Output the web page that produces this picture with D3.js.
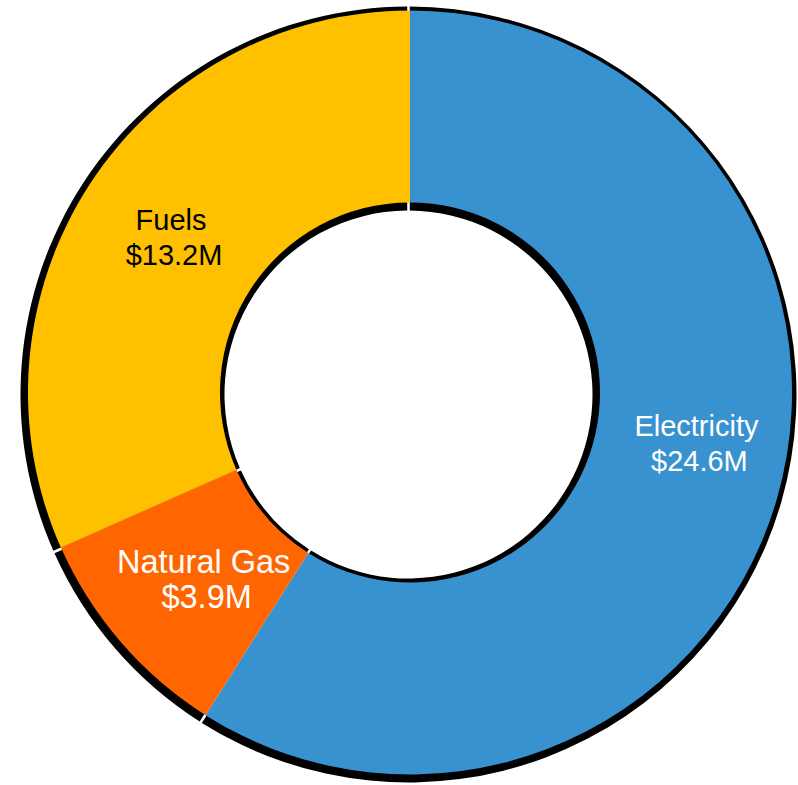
<!DOCTYPE html>
<html>
<head>
<meta charset="utf-8">
<script src="https://cdn.jsdelivr.net/npm/d3@7"></script>
<style>
    body { margin: 0; background: #fff; }
    svg { display: block; }
    text { font-family: "Liberation Sans", Arial, sans-serif; }
</style>
</head>
<body>
<svg id="donut"></svg>
<script>
"use strict";

// Data
const categories = ["Electricity", "Natural Gas", "Fuels"];
const amounts = [24.6, 3.9, 13.2];
const valueLabels = ["$24.6M", "$3.9M", "$13.2M"];

// Look
const colors = ["#3892cf", "#ff6600", "#ffc000"];
const labelColors = ["#ffffff", "#ffffff", "#000000"];
const labelSizes = [29, 32.5, 29];
const labelTurn = [-6, -1.5, 0];   // degrees, small nudges of label placement
const labelRadius = [291, 279, 285];

// Dimensions
const width = 798;
const height = 785;
const cx = 410;
const cy = 392.5;
const outerR = 382;
const innerR = 190;

const svg = d3.select("#donut")
    .attr("width", width)
    .attr("height", height);

const slices = d3.pie()
    .sort(null)
    .value(d => d)(amounts);

const arc = d3.arc()
    .innerRadius(innerR)
    .outerRadius(outerR);

// shadow under each slice
const shadowArc = d3.arc()
    .innerRadius(innerR - 6)
    .outerRadius(outerR + 6)
    .padAngle(0.006);

svg.append("g")
    .attr("transform", `translate(${cx - 1.5}, ${cy + 2})`)
    .selectAll("path")
    .data(slices)
    .join("path")
        .attr("d", shadowArc)
        .attr("fill", "#000");

const chart = svg.append("g")
    .attr("transform", `translate(${cx}, ${cy})`);

chart.selectAll("path.slice")
    .data(slices)
    .join("path")
        .classed("slice", true)
        .attr("d", arc)
        .attr("fill", (d, i) => colors[i]);

// labels
const labels = chart.selectAll("text")
    .data(slices)
    .join("text")
        .attr("text-anchor", "middle")
        .attr("font-size", (d, i) => labelSizes[i])
        .attr("fill", (d, i) => labelColors[i])
        .attr("transform", (d, i) => {
            const a = (d.startAngle + d.endAngle) / 2 + labelTurn[i] * Math.PI / 180;
            const r = labelRadius[i];
            return `translate(${r * Math.sin(a)}, ${-r * Math.cos(a)})`;
        });

labels.append("tspan")
    .attr("x", 0)
    .attr("y", -7.5)
    .text((d, i) => categories[i]);

labels.append("tspan")
    .attr("x", 3)
    .attr("y", 27.5)
    .text((d, i) => valueLabels[i]);
</script>
</body>
</html>
